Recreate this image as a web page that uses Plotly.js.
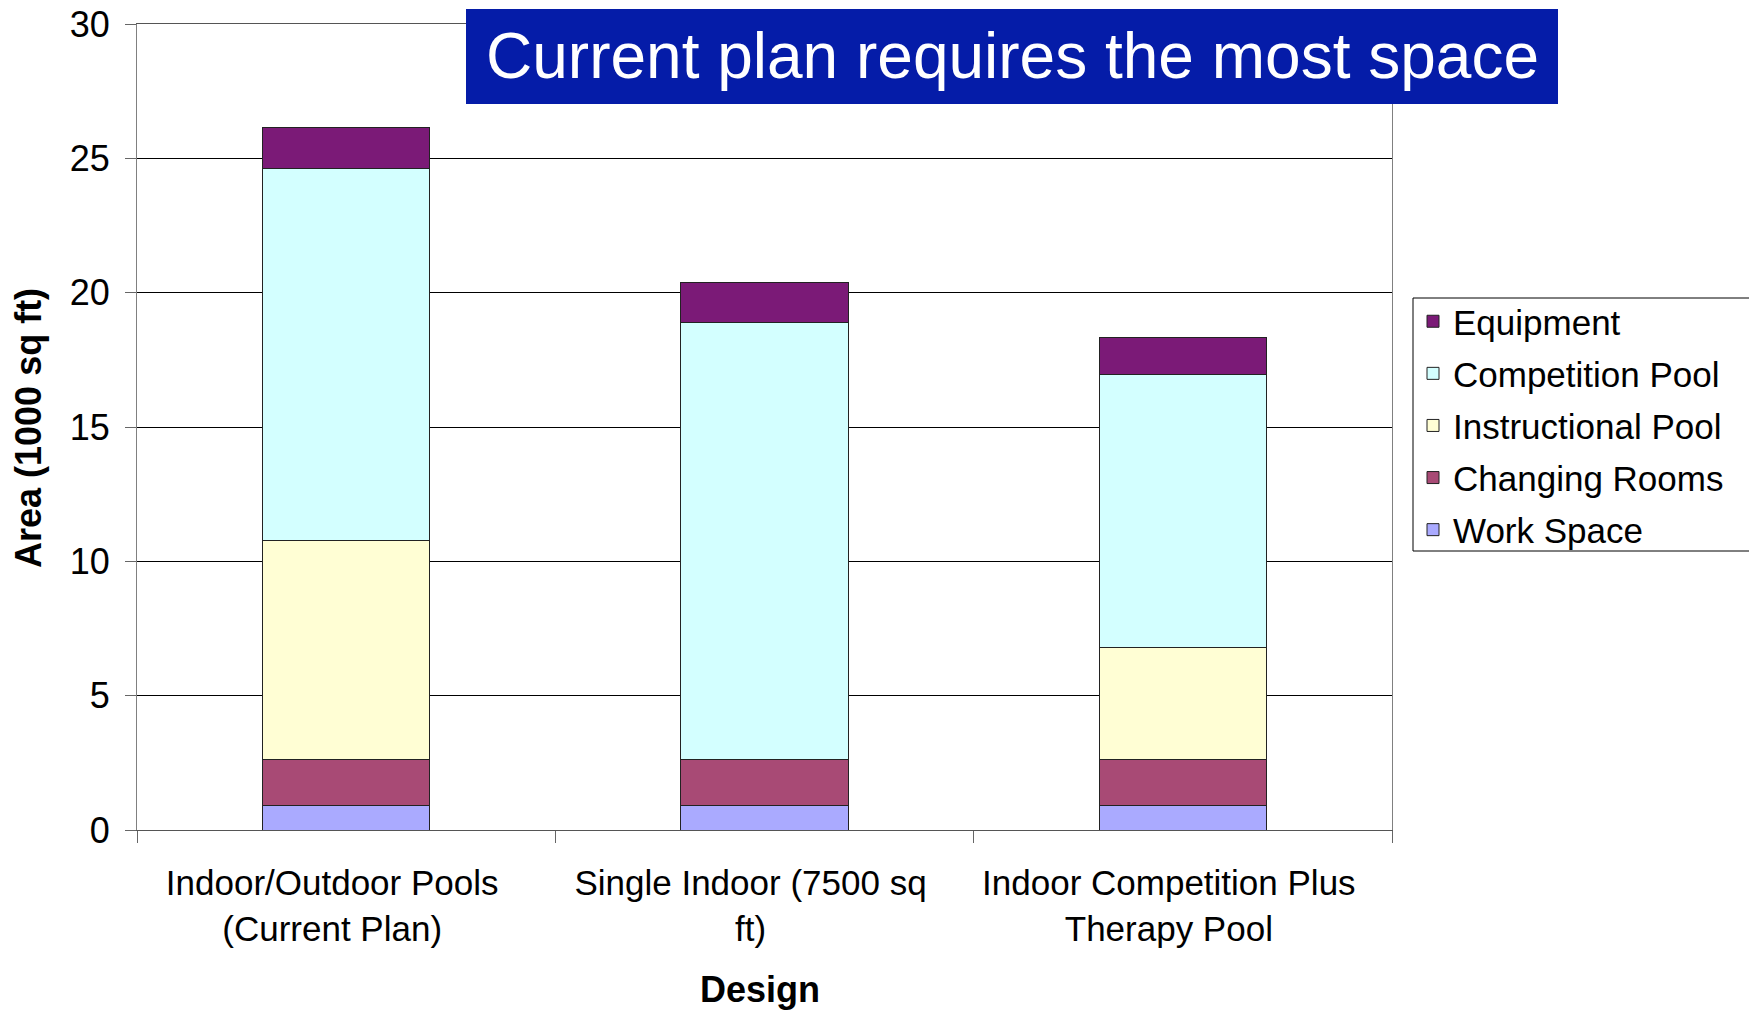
<!DOCTYPE html>
<html>
<head>
<meta charset="utf-8">
<script src="https://cdn.plot.ly/plotly-3.0.1.min.js"></script>
<style>html,body{margin:0;padding:0;background:#fff;}#chart{width:1749px;height:1011px;}</style>
</head>
<body>
<div id="chart"></div>
<script>
// Categories (x axis)
var designs = [
  "Indoor/Outdoor Pools<br>(Current Plan)",
  "Single Indoor (7500 sq<br>ft)",
  "Indoor Competition Plus<br>Therapy Pool"
];
// Series values (1000 sq ft), stacked bottom to top
var workSpace         = [0.93, 0.93, 0.93];
var changingRooms     = [1.71, 1.71, 1.71];
var instructionalPool = [8.12, 0, 4.16];
var competitionPool   = [13.87, 16.24, 10.15];
var equipment         = [1.51, 1.50, 1.39];
// Series names and colours (stack order: bottom to top)
var seriesNames  = ["Work Space", "Changing Rooms", "Instructional Pool", "Competition Pool", "Equipment"];
var seriesValues = [workSpace, changingRooms, instructionalPool, competitionPool, equipment];
var seriesColors = ["#AAAAFF", "#A84A75", "#FFFED4", "#D3FFFF", "#7B1A77"];
// Axis ticks
var yTicks = [0, 5, 10, 15, 20, 25, 30];

var FONT = "Liberation Sans, Arial, Helvetica, sans-serif";

var traces = seriesNames.map(function (name, i) {
  return {
    type: "bar",
    name: name,
    x: designs,
    y: seriesValues[i],
    legendgroup: "g" + i,
    legendrank: seriesNames.length - i,
    marker: { color: seriesColors[i], line: { color: "#222222", width: 1 } },
    hoverinfo: "x+y+name"
  };
});

var L = 137, R = 1392, T = 24, B = 830, W = 1749, H = 1011;
function px(x) { return (x - L) / (R - L); }
function py(y) { return (B - y) / (B - T); }

var layout = {
  width: W, height: H,
  paper_bgcolor: "#ffffff", plot_bgcolor: "#ffffff",
  margin: { l: L, r: W - R, t: T, b: H - B, pad: 0 },
  barmode: "stack",
  bargap: 0.6,
  font: { family: FONT, size: 34, color: "#000000" },
  showlegend: true,
  legend: {
    x: px(1413), y: py(292), xanchor: "left", yanchor: "top",
    bgcolor: "rgba(0,0,0,0)", borderwidth: 0,
    font: { family: FONT, size: 35, color: "#000000" },
    traceorder: "grouped", tracegroupgap: 3.6
  },
  xaxis: {
    type: "category",
    tickson: "boundaries",
    ticks: "outside", ticklen: 12, tickcolor: "#666666", tickwidth: 1,
    showline: true, linecolor: "#555555", linewidth: 1, mirror: true,
    showgrid: false, zeroline: false,
    tickfont: { family: FONT, size: 35, color: "#000000" },
    ticklabelstandoff: 22,
    ticklabelshift: -14,
    fixedrange: true
  },
  yaxis: {
    range: [0, 30],
    tickvals: yTicks,
    ticktext: yTicks.map(String),
    ticks: "outside", ticklen: 11, tickcolor: "#666666", tickwidth: 1,
    showline: true, linecolor: "#808080", linewidth: 1, mirror: true,
    showgrid: true, gridcolor: "#000000", gridwidth: 1,
    zeroline: false,
    tickfont: { family: FONT, size: 36, color: "#000000" },
    ticklabelstandoff: 8,
    fixedrange: true
  },
  shapes: [
    {
      type: "rect", xref: "paper", yref: "paper",
      x0: px(466), x1: px(1558), y0: py(104), y1: py(9),
      fillcolor: "#051CA8", line: { width: 0 }, layer: "above"
    },
    {
      type: "rect", xref: "paper", yref: "paper",
      x0: px(1413), x1: px(1770), y0: py(551), y1: py(298),
      fillcolor: "rgba(255,255,255,0)", line: { color: "#000000", width: 1 }, layer: "above"
    }
  ],
  annotations: [
    {
      xref: "paper", yref: "paper", x: px(1012), y: py(56),
      xanchor: "center", yanchor: "middle", showarrow: false,
      text: "Current plan requires the most space",
      font: { family: FONT, size: 64, color: "#ffffff" }
    },
    {
      xref: "paper", yref: "paper", x: px(28), y: py(428),
      xanchor: "center", yanchor: "middle", showarrow: false,
      textangle: -90,
      text: "<b>Area (1000 sq ft)</b>",
      font: { family: FONT, size: 36, color: "#000000" }
    },
    {
      xref: "paper", yref: "paper", x: px(760), y: py(989),
      xanchor: "center", yanchor: "middle", showarrow: false,
      text: "<b>Design</b>",
      font: { family: FONT, size: 36, color: "#000000" }
    }
  ]
};

Plotly.newPlot("chart", traces, layout, { displayModeBar: false, staticPlot: true });
</script>
</body>
</html>
